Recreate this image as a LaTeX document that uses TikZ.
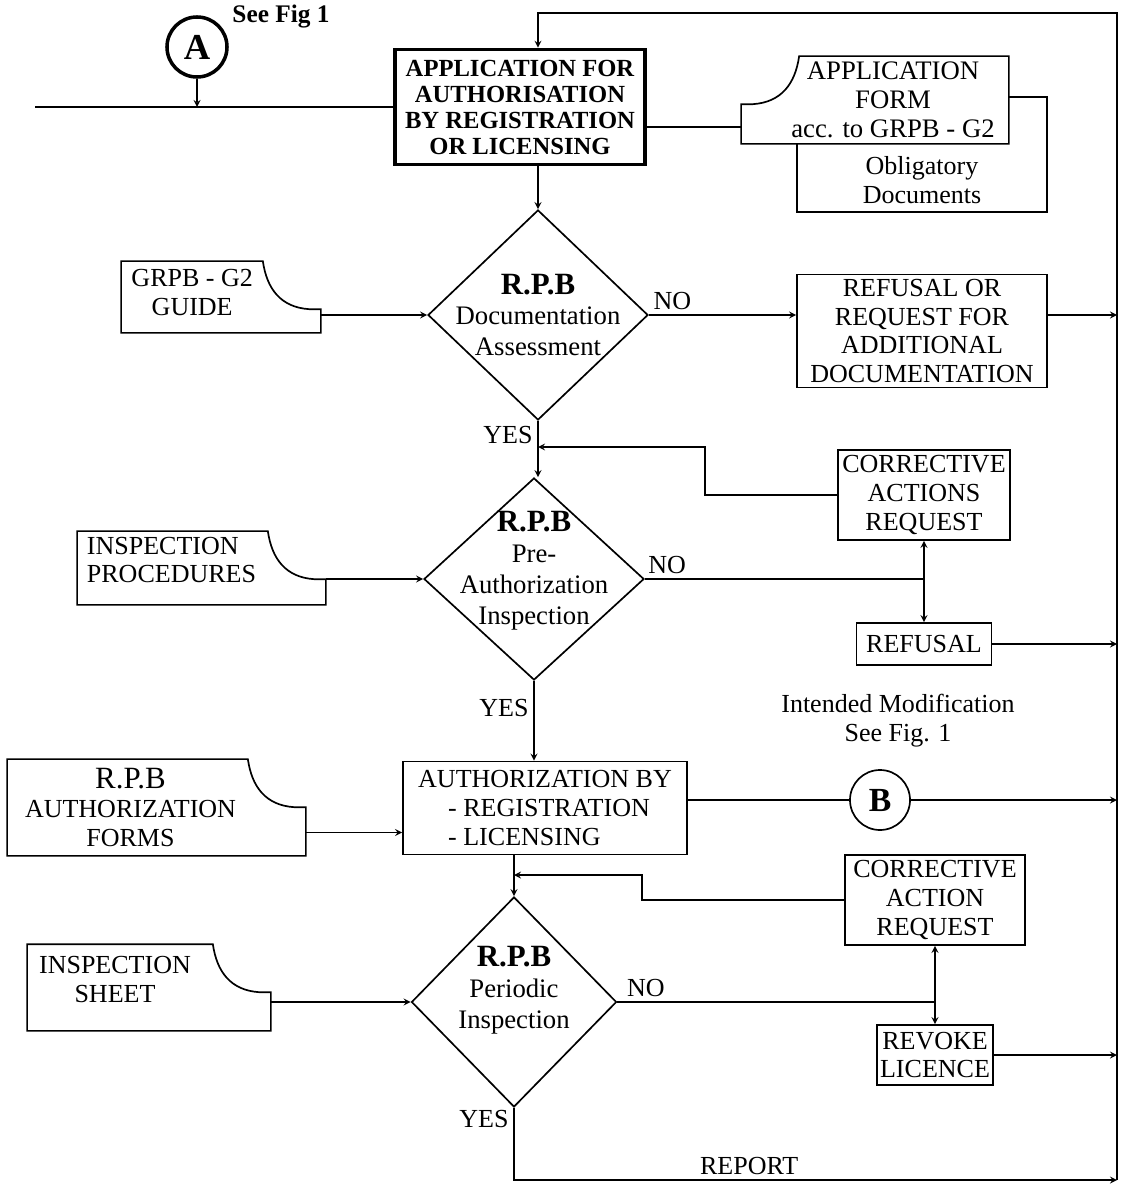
\documentclass[tikz,border=0pt]{standalone}
\usepackage{fontspec}
\setmainfont{Liberation Serif}
\usetikzlibrary{shapes.geometric,positioning}

% outline of a document card, notch top right / top left
\newcommand{\docR}[1]{%
  \draw (#1.south west) -- (#1.north west) -- ([xshift=-1.45cm]#1.north east)
    .. controls ([xshift=-1.35cm,yshift=-0.7cm]#1.north east) and ([xshift=-1.0cm,yshift=-1.15cm]#1.north east) ..
    ([xshift=-0.3cm,yshift=-1.2cm]#1.north east) -- ([yshift=-1.2cm]#1.north east)
    -- (#1.south east) -- cycle;}
\newcommand{\docL}[1]{%
  \draw (#1.south east) -- (#1.north east) -- ([xshift=1.45cm]#1.north west)
    .. controls ([xshift=1.35cm,yshift=-0.7cm]#1.north west) and ([xshift=1.0cm,yshift=-1.15cm]#1.north west) ..
    ([xshift=0.3cm,yshift=-1.2cm]#1.north west) -- ([yshift=-1.2cm]#1.north west)
    -- (#1.south west) -- cycle;}

\begin{document}
\begin{tikzpicture}[x=0.025cm,y=-0.025cm,>=stealth,line width=1.2pt,
                    every node/.style={font=\fontsize{18.5}{20.5}\selectfont,align=center},
                    box/.style={rectangle,draw,inner sep=2pt},
                    card/.style={rectangle,inner sep=0pt},
                    decision/.style={diamond,draw,inner sep=0pt},
                    conn/.style={circle,draw,inner sep=0pt,minimum size=1.5cm},
                    dtext/.style={font=\fontsize{19}{22}\selectfont}]

  \useasboundingbox (0,0) rectangle (1120,1189);

  \coordinate (in) at (35,107);
  \coordinate (rtop) at (1117,13);
  \coordinate (rbot) at (1117,1180);

  % top
  \node[conn,line width=2.5pt,font=\fontsize{26}{26}\selectfont\bfseries] (A) at (197,47) {A};
  \node[font=\fontsize{18}{18}\selectfont\bfseries] (seefig) at (281,17) {See Fig 1};
  \node[box,line width=2.5pt,minimum width=6.25cm,minimum height=2.875cm,
        font=\fontsize{17.5}{18.5}\selectfont\bfseries] (app) at (520,107)
        {APPLICATION FOR\\AUTHORISATION\\BY REGISTRATION\\OR LICENSING};

  \node[box,minimum width=6.25cm,minimum height=2.875cm] (oblig) at (922,154.5) {};
  \node (obltxt) at (922,180) {Obligatory\\Documents};
  \node[card,fill=white,minimum width=6.65cm,minimum height=2.15cm,
        label={[xshift=0.45cm,font=\fontsize{19}{20.5}\selectfont]center:{APPLICATION\\FORM\\acc. to GRPB - G2}}] (appform) at (875,100) {};
  \docL{appform}

  % documentation assessment
  \node[decision,minimum width=5.5cm,minimum height=5.25cm,
        label={[dtext]center:{{\fontsize{22}{22}\selectfont\bfseries R.P.B}\\Documentation\\Assessment}}] (d1) at (538,315) {};
  \node[card,minimum width=4.95cm,minimum height=1.75cm,
        label={[xshift=-0.72cm,yshift=0.12cm]center:{GRPB - G2\\GUIDE}}] (guide) at (221,297) {};
  \docR{guide}
  \node[box,minimum width=6.25cm,minimum height=2.825cm] (refreq) at (922,331)
        {REFUSAL OR\\REQUEST FOR\\ADDITIONAL\\DOCUMENTATION};
  \node[box,minimum width=4.3cm,minimum height=2.25cm] (corr1) at (924,495) {CORRECTIVE\\ACTIONS\\REQUEST};

  % pre-authorization inspection
  \node[decision,minimum width=5.5cm,minimum height=5.05cm,
        label={[dtext,yshift=0.2cm]center:{{\fontsize{22}{22}\selectfont\bfseries R.P.B}\\Pre-\\Authorization\\Inspection}}] (d2) at (534,579) {};
  \node[card,minimum width=6.175cm,minimum height=1.8cm,
        label={[xshift=-0.75cm,yshift=0.2cm,align=left]center:{INSPECTION\\PROCEDURES}}] (procs) at (201.5,568) {};
  \docR{procs}
  \node[box,minimum width=3.375cm,minimum height=1.05cm] (refusal) at (924,644) {REFUSAL};

  % authorization
  \node[box,minimum width=7.1cm,minimum height=2.325cm,align=left] (auth) at (545,808)
        {AUTHORIZATION BY\\\hspace{0.75cm}- REGISTRATION\\\hspace{0.75cm}- LICENSING};
  \node[card,minimum width=7.425cm,minimum height=2.375cm,
        label={[xshift=-0.65cm]center:{{\fontsize{22}{22}\selectfont R.P.B}\\AUTHORIZATION\\FORMS}}] (forms) at (156.5,807.5) {};
  \docR{forms}
  \node (intmod) at (898,721) {Intended Modification\\See Fig. 1};
  \node[conn,font=\fontsize{24}{24}\selectfont\bfseries] (B) at (880,800) {B};

  % periodic inspection
  \node[decision,minimum width=5.125cm,minimum height=5.25cm,
        label={[dtext,yshift=0.3cm]center:{{\fontsize{22}{22}\selectfont\bfseries R.P.B}\\Periodic\\Inspection}}] (d3) at (514,1002) {};
  \node[box,minimum width=4.5cm,minimum height=2.25cm] (corr2) at (935,900) {CORRECTIVE\\ACTION\\REQUEST};
  \node[card,minimum width=6.05cm,minimum height=2.125cm,
        label={[xshift=-0.85cm,yshift=0.2cm]center:{INSPECTION\\SHEET}}] (sheet) at (149,987.5) {};
  \docR{sheet}
  \node[box,minimum width=2.9cm,minimum height=1.5cm] (revoke) at (935,1055) {REVOKE\\LICENCE};

  \coordinate (k1) at (705,447);
  \coordinate (k2) at (642,875);

  % connectors
  \draw[->] (A) -- (A |- in);
  \draw (in) -- (app.west);
  \draw[->] (rbot) -- (rtop) -| (d1 |- app.north);
  \draw ([yshift=-0.5cm]app.east) -- ([yshift=-0.5cm]app.east -| appform.west);
  \draw[->] (d1 |- app.south) -- (d1.north);

  \draw[->] (guide.east |- d1.west) -- (d1.west);
  \draw[->] (d1.east) -- node[pos=0.16,above]{NO} (refreq.west |- d1.east);
  \draw[->] (refreq.east |- d1.east) -- (rtop |- d1.east);
  \draw[->] (d1.south) -- node[pos=0.25,left]{YES} (d1.south |- d2.north);
  \draw[->] (corr1.west) -| (k1) -- (k1 -| d1.south);

  \draw[->] (procs.east |- d2.west) -- (d2.west);
  \draw (d2.east) -- node[pos=0.08,above]{NO} (d2.east -| corr1.south);
  \draw[<->] (corr1.south) -- (refusal.north);
  \draw[->] (refusal.east) -- (refusal.east -| rtop);
  \draw[->] (d2.south) -- node[pos=0.34,left]{YES} (d2.south |- auth.north);

  \draw[->] ([yshift=-0.625cm]forms.east) -- ([yshift=-0.625cm]forms.east -| auth.west);
  \draw (B.west -| auth.east) -- (B.west);
  \draw[->] (B.east) -- (B.east -| rtop);
  \draw[->] (d3 |- auth.south) -- (d3.north);
  \draw[->] (corr2.west) -| (k2) -- (k2 -| d3.north);

  \draw[->] (sheet.east |- d3.west) -- (d3.west);
  \draw (d3.east) -- node[pos=0.09,above]{NO} (d3.east -| corr2.south);
  \draw[<->] (corr2.south) -- (revoke.north);
  \draw[->] (revoke.east) -- (revoke.east -| rtop);
  \draw[->] (d3.south) -- node[pos=0.15,left]{YES} (d3.south |- rbot) -- node[pos=0.39,above]{REPORT} (rbot);

\end{tikzpicture}
\end{document}
